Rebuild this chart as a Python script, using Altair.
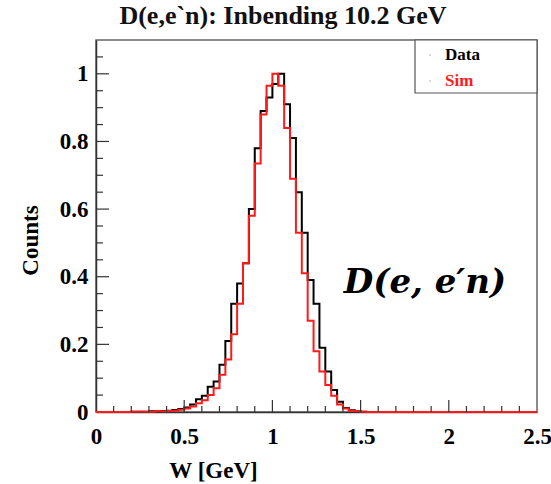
import altair as alt
import pandas as pd

# ---------------- data ----------------
bin_width = 1 / 30          # 75 bins over 0 .. 2.5 GeV
n_bins = 75

data_counts = [
    0, 0, 0, 0, 0, 0, 0.001, 0.001, 0.001, 0.002,
    0.002, 0.003, 0.004, 0.006, 0.009, 0.013, 0.022, 0.038, 0.048, 0.075,
    0.09, 0.14, 0.21, 0.32, 0.38, 0.44, 0.60, 0.78, 0.89, 0.93,
    0.97, 1.0, 0.91, 0.81, 0.65, 0.53, 0.39, 0.32, 0.19, 0.12,
    0.065, 0.03, 0.012, 0.005, 0.002, 0.001, 0, 0, 0, 0,
    0, 0, 0, 0, 0, 0, 0, 0, 0, 0,
    0, 0, 0, 0, 0, 0, 0, 0, 0, 0,
    0, 0, 0, 0, 0,
]
sim_counts = [
    0, 0, 0, 0, 0, 0, 0.001, 0.001, 0.001, 0.001,
    0.002, 0.002, 0.003, 0.004, 0.007, 0.010, 0.016, 0.026, 0.035, 0.05,
    0.07, 0.11, 0.155, 0.23, 0.32, 0.44, 0.58, 0.735, 0.88, 0.965,
    1.0, 0.965, 0.84, 0.69, 0.53, 0.41, 0.27, 0.18, 0.12, 0.08,
    0.048, 0.022, 0.010, 0.004, 0.002, 0.001, 0, 0, 0, 0,
    0, 0, 0, 0, 0, 0, 0, 0, 0, 0,
    0, 0, 0, 0, 0, 0, 0, 0, 0, 0,
    0, 0, 0, 0, 0,
]

x_label_values = [0, 0.5, 1, 1.5, 2, 2.5]
y_label_values = [0, 0.2, 0.4, 0.6, 0.8, 1]
x_major_ticks = [0.5, 1.0, 1.5, 2.0]
x_minor_ticks = [0.1, 0.2, 0.3, 0.4, 0.6, 0.7, 0.8, 0.9, 1.1, 1.2, 1.3, 1.4,
                 1.6, 1.7, 1.8, 1.9, 2.1, 2.2, 2.3, 2.4]
y_major_ticks = [0.2, 0.4, 0.6, 0.8, 1.0]
y_minor_ticks = [0.05, 0.1, 0.15, 0.25, 0.3, 0.35, 0.45, 0.5, 0.55, 0.65,
                 0.7, 0.75, 0.85, 0.9, 0.95, 1.05]

title_text = "D(e,e`n): Inbending 10.2 GeV"
legend_labels = ["Data", "Sim"]
legend_colors = ["black", "#ff1a1a"]
annotation = "D(e, e\u2032n)"

# ---------------- tables ----------------
rows = []
for i in range(n_bins + 1):
    edge = round(i * bin_width, 6)
    j = min(i, n_bins - 1)
    rows.append({"W": edge, "count": data_counts[j], "series": "Data"})
    rows.append({"W": edge, "count": sim_counts[j], "series": "Sim"})
hist = pd.DataFrame(rows)

serif = "Liberation Serif"
W, H = 441, 372

x_scale = alt.Scale(domain=[0, 2.5], nice=False, zero=False)
y_scale = alt.Scale(domain=[0, 1.1], nice=False)

x_axis = alt.Axis(
    values=x_label_values, format="~g", labelFont=serif, labelFontSize=23,
    labelFontWeight="bold", labelColor="black", labelPadding=13, labelFlush=False,
    ticks=False, grid=False, domainColor="#333", domainWidth=1.5,
    title="W [GeV]", titleFont=serif, titleFontSize=23, titleFontWeight="bold",
    titleColor="black", titleX=117, titleY=58, titleAlign="center",
    titleBaseline="middle",
)
y_axis = alt.Axis(
    values=y_label_values, format="~g", labelFont=serif, labelFontSize=23,
    labelFontWeight="bold", labelColor="black", labelPadding=8, labelFlush=False,
    ticks=False, grid=False, domainColor="#333", domainWidth=1.5,
    title="Counts", titleFont=serif, titleFontSize=23, titleFontWeight="bold",
    titleColor="black", titleX=-66, titleY=200, titleAngle=270,
    titleAlign="center", titleBaseline="middle",
)

def X():
    return alt.X("W:Q", scale=x_scale, axis=x_axis, title="W [GeV]")

def Y():
    return alt.Y("count:Q", scale=y_scale, axis=y_axis, title="Counts")

data_line = alt.Chart(hist).transform_filter(alt.datum.series == "Data").mark_line(
    interpolate="step-after", color="black", strokeWidth=2
).encode(x=X(), y=Y())
sim_line = alt.Chart(hist).transform_filter(alt.datum.series == "Sim").mark_line(
    interpolate="step-after", color="#ff1a1a", strokeWidth=2
).encode(x=X(), y=Y())

def xticks(vals, length):
    return alt.Chart(pd.DataFrame({"W": vals})).mark_rule(
        color="#333", strokeWidth=1.2
    ).encode(x=X(), y=alt.value(H), y2=alt.value(H - length))

def yticks(vals, length):
    return alt.Chart(pd.DataFrame({"count": vals})).mark_rule(
        color="#333", strokeWidth=1.2
    ).encode(y=Y(), x=alt.value(0), x2=alt.value(length))

one = pd.DataFrame({"a": [0]})

legend_box = alt.Chart(one).mark_rect(
    fill="white", stroke="#555", strokeWidth=1.2
).encode(x=alt.value(319), x2=alt.value(441), y=alt.value(0), y2=alt.value(53))

legend_layers = []
for lab, col, yp in zip(legend_labels, legend_colors, [15, 41]):
    legend_layers.append(alt.Chart(one).mark_text(
        text=lab, font=serif, fontSize=17, fontWeight="bold", color=col,
        align="left", baseline="middle"
    ).encode(x=alt.value(349), y=alt.value(yp)))
    legend_layers.append(alt.Chart(one).mark_point(
        filled=True, size=3, color="#999", opacity=0.7
    ).encode(x=alt.value(334), y=alt.value(yp)))

title = alt.Chart(one).mark_text(
    text=title_text, font=serif, fontSize=26, fontWeight="bold", color="#111",
    align="center", baseline="alphabetic"
).encode(x=alt.value(187), y=alt.value(-16))

annot = alt.Chart(one).mark_text(
    text=annotation, font="DejaVu Serif", fontSize=34, fontWeight="bold",
    fontStyle="italic", color="black", align="center", baseline="middle"
).encode(x=alt.value(329), y=alt.value(243))

chart = alt.layer(
    data_line, sim_line,
    xticks(x_major_ticks, 12), xticks(x_minor_ticks, 6),
    yticks(y_major_ticks, 13), yticks(y_minor_ticks, 7),
    legend_box, *legend_layers, title, annot,
).properties(
    width=W, height=H,
    autosize=alt.AutoSizeParams(type="none"),
    padding={"left": 96, "top": 40, "right": 14, "bottom": 72},
    background="white",
).configure_view(stroke="#666", strokeWidth=1.5)

chart.save("out.html", embed_options={"renderer": "svg", "actions": False})
